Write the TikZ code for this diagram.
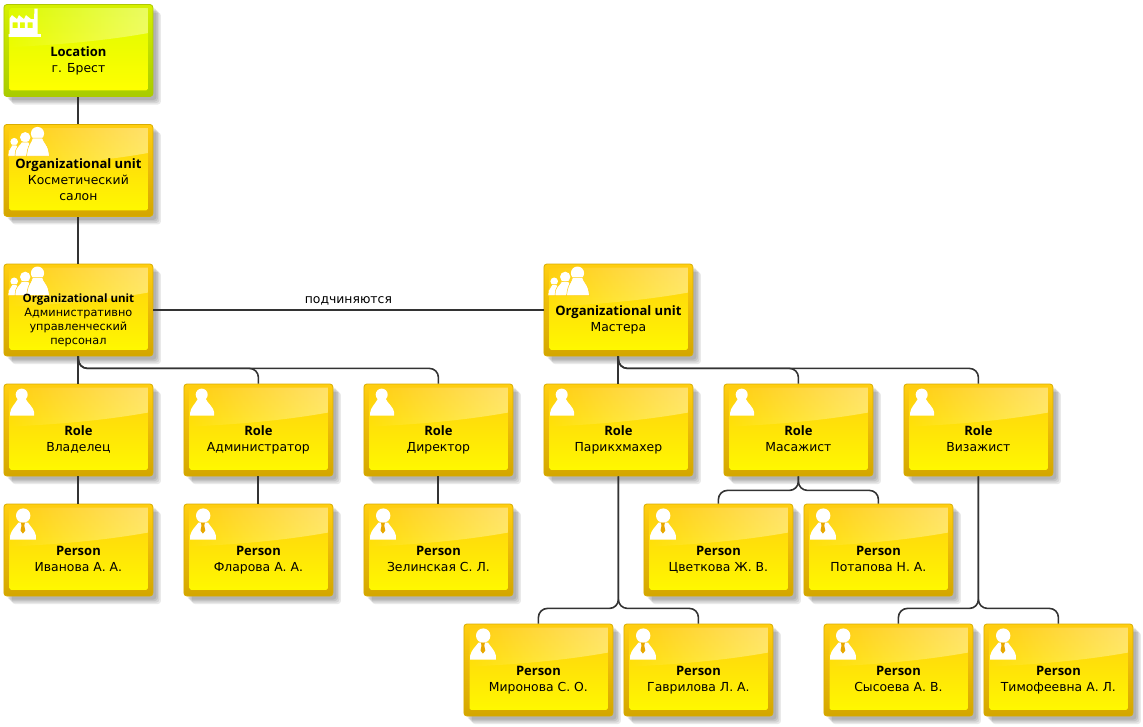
\documentclass[tikz,border=0pt]{standalone}
\usepackage{fontspec}
\setmainfont{DejaVu Sans}
\newfontfamily\headfont{Open Sans}[BoldFont={Open Sans Bold}]
\usetikzlibrary{shadows,fadings}
\definecolor{goldRimTop}{HTML}{FFCE10}
\definecolor{goldRimBot}{HTML}{D4A600}
\definecolor{goldEdge}{HTML}{D9AD00}
\definecolor{goldFaceTop}{HTML}{FFCE10}
\definecolor{goldFaceBot}{HTML}{FFF800}
\definecolor{limeRimTop}{HTML}{D6F000}
\definecolor{limeRimBot}{HTML}{A8CC00}
\definecolor{limeEdge}{HTML}{AFC800}
\definecolor{limeFaceTop}{HTML}{DDFA00}
\definecolor{limeFaceBot}{HTML}{FFFF00}
\definecolor{tieGold}{HTML}{E8A800}
\definecolor{wire}{HTML}{333333}
\tikzfading[name=glossfade,left color=transparent!100,right color=transparent!62]
\tikzset{
  x=1pt,y=-1pt,
  soft/.style={general shadow={shadow xshift=#1,shadow yshift=-#1,fill=black,opacity=.085}},
  cardbase/.style={rectangle,rounded corners=3pt,minimum width=149pt,minimum height=92pt,inner sep=0pt,line width=.8pt,
    soft=3.5pt,soft=5pt,soft=6.5pt,soft=8pt},
  goldrim/.style={cardbase,draw=goldEdge,top color=goldRimTop,bottom color=goldRimBot},
  limerim/.style={cardbase,draw=limeEdge,top color=limeRimTop,bottom color=limeRimBot},
  goldface/.style={top color=goldFaceTop,bottom color=goldFaceBot},
  limeface/.style={top color=limeFaceTop,bottom color=limeFaceBot},
  gloss/.style={fill=white,path fading=glossfade},
  cardtext/.style={align=center,inner sep=0pt,text=black,font=\fontsize{12.4}{16}\selectfont},
  cardsmall/.style={align=center,inner sep=0pt,text=black,font=\fontsize{11.3}{14.2}\selectfont},
  conn/.style={draw=wire,line width=2pt},
  branch/.style={draw=wire,line width=1.6pt,rounded corners=9pt},
  linklabel/.style={above,inner sep=3.5pt,font=\fontsize{12.4}{14}\selectfont},
  factoryicon/.pic={
    \fill[white,even odd rule]
      (5,32.8) -- (5,30) -- (6,30) -- (6,14.5) -- (8.5,11) -- (13.5,15) -- (15.5,11) -- (20.5,15) -- (22.5,11) -- (27.5,15) -- (30.5,15) -- (31,4.5) -- (34.2,4.5) -- (34.2,30) -- (37.4,30) -- (37.4,32.8) -- cycle
      (9,18.2) rectangle (14,24)
      (16.4,18.2) rectangle (21.4,24)
      (24,18.2) rectangle (29,24);
  },
  groupicon/.pic={
    \fill[white] (10.7,17.7) circle (3.8);
    \fill[white,draw=goldFaceTop,line width=.5pt] (4.5,32) -- (5,27) .. controls (6,24) and (8,23) .. (8.5,21) -- (13,21) .. controls (14,23) and (17,25) .. (18,32) -- cycle;
    \fill[white] (21.7,13.3) circle (5.2);
    \fill[white,draw=goldFaceTop,line width=.5pt] (11.5,32) -- (12,27) .. controls (13,23) and (16.5,21) .. (18,18) -- (25,18) .. controls (26.5,21) and (30,24) .. (31,32) -- cycle;
    \fill[white] (34,9.5) circle (6.6);
    \fill[white,draw=goldFaceTop,line width=.5pt] (23,32) -- (24,26) .. controls (25,21) and (28,18) .. (29,14) -- (39,14) .. controls (40,18) and (44,21) .. (45,26) -- (46,32) -- cycle;
  },
  roleicon/.pic={
    \fill[white] (18.2,11) circle (6);
    \fill[white] (6.7,32) -- (6.7,29) .. controls (7,24) and (12,20) .. (14.5,15) -- (22,15) .. controls (24.5,20) and (30.4,24) .. (30.7,29) -- (30.7,32) -- cycle;
  },
  personicon/.pic={
    \fill[white] (19.7,12) circle (7.2);
    \fill[white] (6.7,36) -- (6.7,32) .. controls (7.5,27) and (12,23) .. (15,19) -- (24.5,19) .. controls (27,23) and (31.5,27) .. (32.4,32) -- (32.4,36) -- cycle;
    \fill[tieGold] (17.4,19) -- (21.4,19) -- (20.8,22) -- (21.8,27) -- (19.4,30) -- (17,27) -- (18,22) -- cycle;
  },
}
\newcommand\card[7]{%
  \node[#4rim] (#1) at (#2,#3) {};
  \path[#4face,rounded corners=1.5pt] ([shift={(6,4)}]#1.north west) rectangle ([shift={(-5.5,-6.5)}]#1.south east);
  \path[gloss] ([shift={(6,4)}]#1.north west) -- ([shift={(-5.5,4)}]#1.north east) -- ([shift={(-5.5,29)}]#1.north east)
     .. controls ([shift={(-50,37)}]#1.north east) and ([shift={(-100,41)}]#1.north east) .. ([shift={(6,43)}]#1.north west) -- cycle;
  \pic at (#1.north west) {#5};
  \node[#6] (#1t) at ([yshift=-10.5pt]#1.center) {#7};
}
\newcommand\lbl[2]{\strut{\headfont\bfseries\fontsize{13}{16}\selectfont #1}\\#2\strut}
\newcommand\lblsmall[2]{\strut{\headfont\bfseries\fontsize{11.5}{14.2}\selectfont #1}\\#2\strut}
\begin{document}
\begin{tikzpicture}
\useasboundingbox (0,0) rectangle (1143,726);
\card{loc}{78.4}{50.5}{lime}{factoryicon}{cardtext}{\lbl{Location}{г. Брест}}
\card{ou}{78.4}{170.4}{gold}{groupicon}{cardtext}{\lbl{Organizational unit}{Косметический\\салон}}
\card{admin}{78.4}{310}{gold}{groupicon}{cardsmall}{\lblsmall{Organizational unit}{Административно\\управленческий\\персонал}}
\card{masters}{618.4}{310}{gold}{groupicon}{cardtext}{\lbl{Organizational unit}{Мастера}}
\card{rA}{78.4}{430}{gold}{roleicon}{cardtext}{\lbl{Role}{Владелец}}
\card{rB}{258.4}{430}{gold}{roleicon}{cardtext}{\lbl{Role}{Администратор}}
\card{rC}{438.4}{430}{gold}{roleicon}{cardtext}{\lbl{Role}{Директор}}
\card{rD}{618.4}{430}{gold}{roleicon}{cardtext}{\lbl{Role}{Парикхмахер}}
\card{rE}{798.4}{430}{gold}{roleicon}{cardtext}{\lbl{Role}{Масажист}}
\card{rF}{978.4}{430}{gold}{roleicon}{cardtext}{\lbl{Role}{Визажист}}
\card{pA}{78.4}{550}{gold}{personicon}{cardtext}{\lbl{Person}{Иванова А. А.}}
\card{pB}{258.4}{550}{gold}{personicon}{cardtext}{\lbl{Person}{Фларова А. А.}}
\card{pC}{438.4}{550}{gold}{personicon}{cardtext}{\lbl{Person}{Зелинская С. Л.}}
\card{pE}{718.4}{550}{gold}{personicon}{cardtext}{\lbl{Person}{Цветкова Ж. В.}}
\card{pF}{878.4}{550}{gold}{personicon}{cardtext}{\lbl{Person}{Потапова Н. А.}}
\card{pG}{538.4}{670}{gold}{personicon}{cardtext}{\lbl{Person}{Миронова С. О.}}
\card{pH}{698.4}{670}{gold}{personicon}{cardtext}{\lbl{Person}{Гаврилова Л. А.}}
\card{pI}{898.4}{670}{gold}{personicon}{cardtext}{\lbl{Person}{Сысоева А. В.}}
\card{pJ}{1058.4}{670}{gold}{personicon}{cardtext}{\lbl{Person}{Тимофеевна А. Л.}}
\draw[conn] (loc) -- (ou);
\draw[conn] (ou) -- (admin);
\draw[conn] (admin.east) -- node[linklabel] (linkname) {подчиняются} (masters.west);
\draw[conn] (admin) -- (rA);
\draw[branch] (admin.south) -- ++(0,12) -| (rB.north);
\draw[branch] (admin.south) -- ++(0,12) -| (rC.north);
\draw[conn] (masters) -- (rD);
\draw[branch] (masters.south) -- ++(0,12) -| (rE.north);
\draw[branch] (masters.south) -- ++(0,12) -| (rF.north);
\draw[conn] (rA) -- (pA);
\draw[conn] (rB) -- (pB);
\draw[conn] (rC) -- (pC);
\draw[branch] (rE.south) -- ++(0,14) -| (pE.north);
\draw[branch] (rE.south) -- ++(0,14) -| (pF.north);
\draw[branch] (rD.south) -- ++(0,132) -| (pG.north);
\draw[branch] (rD.south) -- ++(0,132) -| (pH.north);
\draw[branch] (rF.south) -- ++(0,132) -| (pI.north);
\draw[branch] (rF.south) -- ++(0,132) -| (pJ.north);
\end{tikzpicture}
\end{document}
